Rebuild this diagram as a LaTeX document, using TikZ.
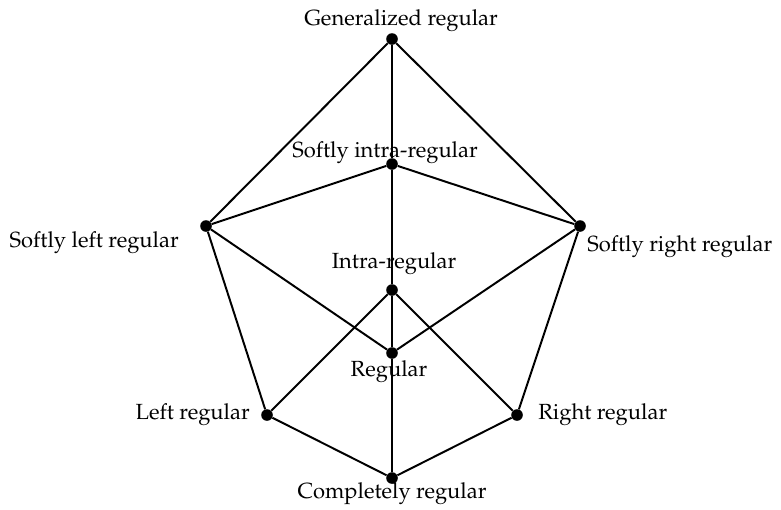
\documentclass[tikz,border=0pt]{standalone}
\usepackage[T1]{fontenc}
\usepackage{mathpazo}
\usepackage{tikz}
\usetikzlibrary{positioning}
\tikzset{
  classdot/.style={
    circle, fill=black, inner sep=0pt, minimum size=0.29cm
  },
  classtext/.style={font=\fontsize{15.6}{18}\selectfont, inner sep=0pt},
  classedge/.style={line width=1.4pt, color=black},
}
\begin{document}
\begin{tikzpicture}[x=0.025cm, y=-0.025cm]
  \useasboundingbox (0,0) rectangle (781,509);
  % classes
  \node[classdot] (gen) at (392,39) {};
  \node[classdot] (sir) at (392,164) {};
  \node[classdot] (slr) at (206,226) {};
  \node[classdot] (srr) at (580,226) {};
  \node[classdot] (ir) at (392,290) {};
  \node[classdot] (reg) at (392,353) {};
  \node[classdot] (lr) at (267,415) {};
  \node[classdot] (rr) at (517,415) {};
  \node[classdot] (cr) at (392,478) {};
  % names
  \node[classtext, anchor=base, xshift=0.225cm, yshift=0.35cm] (gen-lbl) at (gen) {Generalized regular};
  \node[classtext, anchor=base, xshift=-0.175cm, yshift=0.175cm] (sir-lbl) at (sir) {Softly intra-regular};
  \node[classtext, anchor=base east, xshift=-0.675cm, yshift=-0.525cm] (slr-lbl) at (slr) {Softly left regular};
  \node[classtext, anchor=base west, xshift=0.175cm, yshift=-0.625cm] (srr-lbl) at (srr) {Softly right regular};
  \node[classtext, anchor=base, xshift=0.05cm, yshift=0.55cm] (ir-lbl) at (ir) {Intra-regular};
  \node[classtext, anchor=base, xshift=-0.075cm, yshift=-0.575cm] (reg-lbl) at (reg) {Regular};
  \node[classtext, anchor=base east, xshift=-0.425cm, yshift=-0.1cm] (lr-lbl) at (lr) {Left regular};
  \node[classtext, anchor=base west, xshift=0.525cm, yshift=-0.1cm] (rr-lbl) at (rr) {Right regular};
  \node[classtext, anchor=base, yshift=-0.5cm] (cr-lbl) at (cr) {Completely regular};
  % outer pentagon
  \draw[classedge] (gen) -- (slr) -- (lr) -- (cr) -- (rr) -- (srr) -- (gen);
  % middle column
  \draw[classedge] (gen) -- (sir) -- (ir) -- (reg) -- (cr);
  \draw[classedge] (slr) -- (sir) -- (srr);
  \draw[classedge] (slr) -- (reg) -- (srr);
  \draw[classedge] (lr) -- (ir) -- (rr);
\end{tikzpicture}
\end{document}
